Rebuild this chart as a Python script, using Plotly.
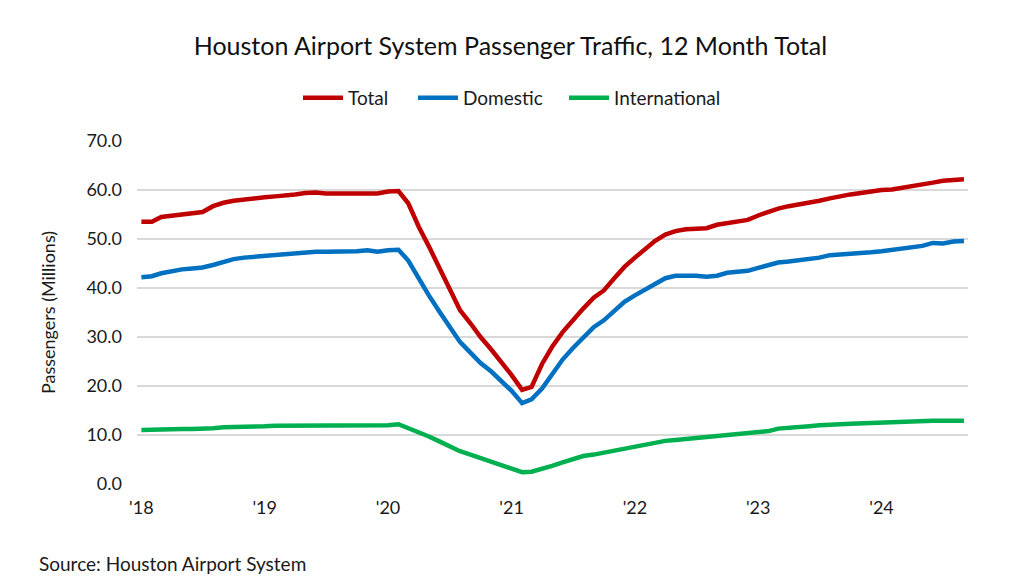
import pandas as pd
import plotly.graph_objects as go

months = pd.date_range("2018-01-01", periods=81, freq="MS")

total = [53.5, 53.5, 54.5, 54.7, 54.9, 55.2, 55.5, 56.7, 57.4, 57.8, 58.1, 58.3,
         58.5, 58.7, 59.0, 59.1, 59.4, 59.5, 59.3, 59.3, 59.3, 59.3, 59.5, 59.3,
         59.7, 59.8, 57.3, 52.5, 48.5, 44.0, 39.5, 35.5, 32.8, 30.0, 27.5, 25.0,
         22.2, 19.2, 19.8, 24.5, 28.0, 31.0, 33.5, 35.8, 38.0, 39.5, 42.0, 44.3,
         46.2, 48.0, 49.6, 50.9, 51.6, 52.0, 52.0, 52.2, 52.9, 53.3, 53.7, 53.9,
         54.8, 55.6, 56.2, 56.7, 57.0, 57.4, 57.8, 58.3, 58.8, 59.1, 59.4, 59.8,
         60.0, 60.1, 60.4, 60.7, 61.0, 61.5, 61.9, 62.1, 62.2]

domestic = [42.2, 42.4, 43.0, 43.5, 43.8, 44.0, 44.2, 44.7, 45.3, 45.9, 46.2, 46.4,
            46.4, 46.8, 47.0, 47.2, 47.3, 47.4, 47.4, 47.4, 47.4, 47.5, 47.7, 47.4,
            47.7, 47.8, 45.6, 41.8, 38.5, 35.2, 32.2, 29.0, 26.8, 24.7, 23.0, 21.0,
            19.0, 16.5, 17.3, 19.5, 22.6, 25.4, 27.7, 29.8, 32.0, 33.4, 35.2, 37.2,
            38.5, 39.7, 41.0, 42.0, 42.5, 42.6, 42.5, 42.3, 42.5, 43.1, 43.4, 43.5,
            44.1, 44.7, 45.2, 45.4, 45.6, 45.8, 46.2, 46.7, 46.8, 46.9, 47.1, 47.3,
            47.5, 47.8, 48.0, 48.2, 48.6, 49.2, 49.1, 49.5, 49.6]

international = [11.0, 11.1, 11.2, 11.2, 11.2, 11.2, 11.2, 11.4, 11.6, 11.6, 11.6, 11.6,
                 11.8, 11.9, 11.9, 11.9, 11.9, 11.9, 11.9, 11.9, 11.9, 11.9, 11.9, 11.9,
                 12.0, 12.2, 11.4, 10.7, 9.7, 8.7, 7.7, 6.7, 6.0, 5.3, 4.6, 3.8,
                 3.0, 2.4, 2.5, 3.0, 3.7, 4.4, 5.0, 5.7, 6.0, 6.4, 6.9, 7.4,
                 7.7, 8.0, 8.4, 8.8, 9.0, 9.2, 9.4, 9.6, 9.8, 10.1, 10.3, 10.5,
                 10.6, 10.8, 11.3, 11.4, 11.6, 11.8, 12.0, 12.2, 12.2, 12.3, 12.4, 12.5,
                 12.6, 12.7, 12.8, 12.9, 12.9, 12.9, 12.9, 12.9, 12.9]

year_ticks = pd.date_range("2018-01-01", periods=7, freq="YS")
year_labels = ["'18", "'19", "'20", "'21", "'22", "'23", "'24"]
y_ticks = [0, 10, 20, 30, 40, 50, 60, 70]

FONT = "Lato"
TXT = "#1a1a1a"

fig = go.Figure()
fig.add_trace(go.Scatter(x=months, y=total, name="Total", mode="lines",
                         line=dict(color="#C00000", width=4.5), legend="legend"))
fig.add_trace(go.Scatter(x=months, y=domestic, name="Domestic", mode="lines",
                         line=dict(color="#0070C0", width=4.5), legend="legend2"))
fig.add_trace(go.Scatter(x=months, y=international, name="International", mode="lines",
                         line=dict(color="#00B050", width=4.5), legend="legend3"))


def leg(x_px):
    return dict(orientation="h", xref="container", yref="container",
                x=x_px / 1015, xanchor="left", y=1 - 90 / 588, yanchor="middle",
                font=dict(family=FONT, size=19, color=TXT),
                itemwidth=40, bgcolor="rgba(0,0,0,0)")


# page body adds an 8px offset; margins compensate
fig.update_layout(
    width=1015, height=588,
    paper_bgcolor="white", plot_bgcolor="white",
    margin=dict(l=129, r=55, t=133, b=112),
    font=dict(family=FONT, size=18, color=TXT),
    title=dict(text="Houston Airport System Passenger Traffic, 12 Month Total",
               x=0.495, xanchor="center", y=1 - 38 / 588, yanchor="middle",
               font=dict(family=FONT, size=25, color="#111111")),
    legend=leg(290),
    legend2=leg(405),
    legend3=leg(556),
    showlegend=True,
)
fig.update_xaxes(
    range=["2017-12-19", "2024-09-13"],
    tickvals=year_ticks, ticktext=year_labels,
    showgrid=False, zeroline=False, showline=False, ticks="",
    ticklabelstandoff=11,
    tickfont=dict(family=FONT, size=18, color=TXT),
)
fig.update_yaxes(
    range=[0, 70], tickvals=y_ticks, tickformat=".1f",
    showgrid=True, gridcolor="#d9d9d9", gridwidth=1.5,
    zeroline=False, showline=False, ticks="",
    ticklabelstandoff=14,
    tickfont=dict(family=FONT, size=18, color=TXT),
    title=dict(text="Passengers (Millions)", standoff=26,
               font=dict(family=FONT, size=18, color=TXT)),
)
fig.add_annotation(text="Source: Houston Airport System", xref="paper", yref="paper",
                   x=-(129 - 29) / 831, y=-(555 - 476) / 343, xanchor="left", yanchor="middle",
                   showarrow=False, font=dict(family=FONT, size=19, color=TXT))

fig.write_html("out.html")
